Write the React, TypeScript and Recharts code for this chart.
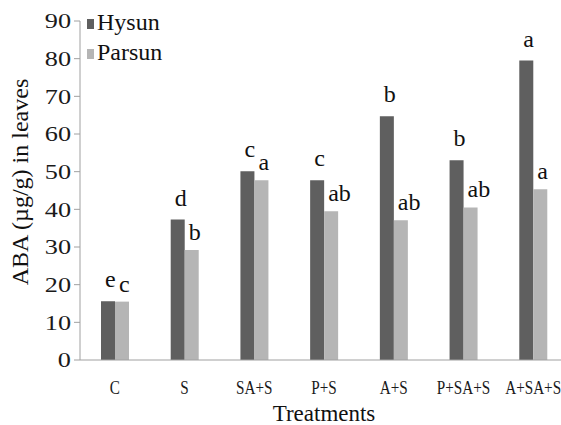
import React from "react";
import { BarChart, Bar, XAxis, YAxis, Legend, LabelList, Label } from "recharts";

const treatments = ["C", "S", "SA+S", "P+S", "A+S", "P+SA+S", "A+SA+S"];
const hysun = [15.6, 37.3, 50.1, 47.7, 64.7, 53.0, 79.5];
const parsun = [15.5, 29.2, 47.7, 39.5, 37.1, 40.5, 45.3];
const hysunLetters = ["e", "d", "c", "c", "b", "b", "a"];
const parsunLetters = ["c", "b", "a", "ab", "ab", "ab", "a"];
const yTicks = [0, 10, 20, 30, 40, 50, 60, 70, 80, 90];

const data = treatments.map((t, i) => ({
  treatment: t,
  Hysun: hysun[i],
  Parsun: parsun[i],
  hysunSig: hysunLetters[i],
  parsunSig: parsunLetters[i],
}));

const FONT = "Liberation Serif, Tinos, DejaVu Serif, serif";
const DARK = "#5f5f5f";
const LIGHT = "#b5b5b5";
const AXIS = "#a0a0a0";

const XTick = (props: any) => {
  const { x, y, payload } = props;
  return (
    <g transform={`translate(${x},${y + 34})`}>
      <text transform="scale(0.8,1)" textAnchor="middle" style={{ fontFamily: FONT }} fontSize={19} fill="#1a1a1a">
        {payload.value}
      </text>
    </g>
  );
};

// the numbers on the value axis are drawn a bit wide in the original
const YTick = (props: any) => {
  const { x, y, payload } = props;
  return (
    <g transform={`translate(${x},${y})`}>
      <text transform="scale(1.25,1)" textAnchor="end" dy="0.355em" style={{ fontFamily: FONT }} fontSize={21} fill="#1a1a1a">
        {payload.value}
      </text>
    </g>
  );
};

// significance letters sit just above the bar, left-aligned a little inside it
const sigLabel = (gap: number) => (props: any) => {
  const { x, y, value } = props;
  return (
    <text x={x + 4} y={y - gap} style={{ fontFamily: FONT }} fontSize={24} fill="#111">
      {value}
    </text>
  );
};

const renderLegend = () => (
  <div style={{ fontFamily: FONT, fontSize: 24, color: "#111", lineHeight: "30px" }}>
    {[
      { name: "Hysun", color: DARK },
      { name: "Parsun", color: LIGHT },
    ].map((s) => (
      <div key={s.name} style={{ display: "flex", alignItems: "center" }}>
        <span style={{ display: "inline-block", width: 7, height: 10, background: s.color, marginRight: 3, marginTop: 3 }} />
        {s.name}
      </div>
    ))}
  </div>
);

export default function App() {
  return (
    <div style={{ position: "absolute", left: 0, top: 0, width: 561, height: 425, overflow: "hidden", background: "#fff", fontFamily: FONT }}>
      <BarChart width={568} height={425} data={data} margin={{ top: 21, right: 0, left: 0, bottom: 0 }} barGap={0} barSize={14}>
        <XAxis
          dataKey="treatment"
          height={65}
          stroke={AXIS}
          tickLine={false}
          tickSize={0}
          tickMargin={0}
          tick={<XTick />}
          interval={0}
        >
          <Label value="Treatments" position="insideBottom" offset={4} style={{ fontFamily: FONT }} fontSize={23} fill="#111" />
        </XAxis>
        <YAxis
          width={80}
          domain={[0, 90]}
          ticks={yTicks}
          stroke={AXIS}
          tickSize={6}
          tickMargin={3}
          tick={<YTick />}
          label={{
            content: () => (
              <text
                x={28}
                y={182}
                transform="rotate(-90, 28, 182)"
                textAnchor="middle"
                style={{ fontFamily: FONT }}
                fontSize={24}
                fill="#111"
              >
                ABA (µg/g) in leaves
              </text>
            ),
          }}
        />
        <Legend
          layout="vertical"
          align="center"
          verticalAlign="middle"
          content={renderLegend}
          wrapperStyle={{ left: 87, top: 7, width: "auto" }}
        />
        <Bar dataKey="Hysun" fill={DARK} isAnimationActive={false}>
          <LabelList dataKey="hysunSig" content={sigLabel(14)} />
        </Bar>
        <Bar dataKey="Parsun" fill={LIGHT} isAnimationActive={false}>
          <LabelList dataKey="parsunSig" content={sigLabel(10)} />
        </Bar>
      </BarChart>
    </div>
  );
}
